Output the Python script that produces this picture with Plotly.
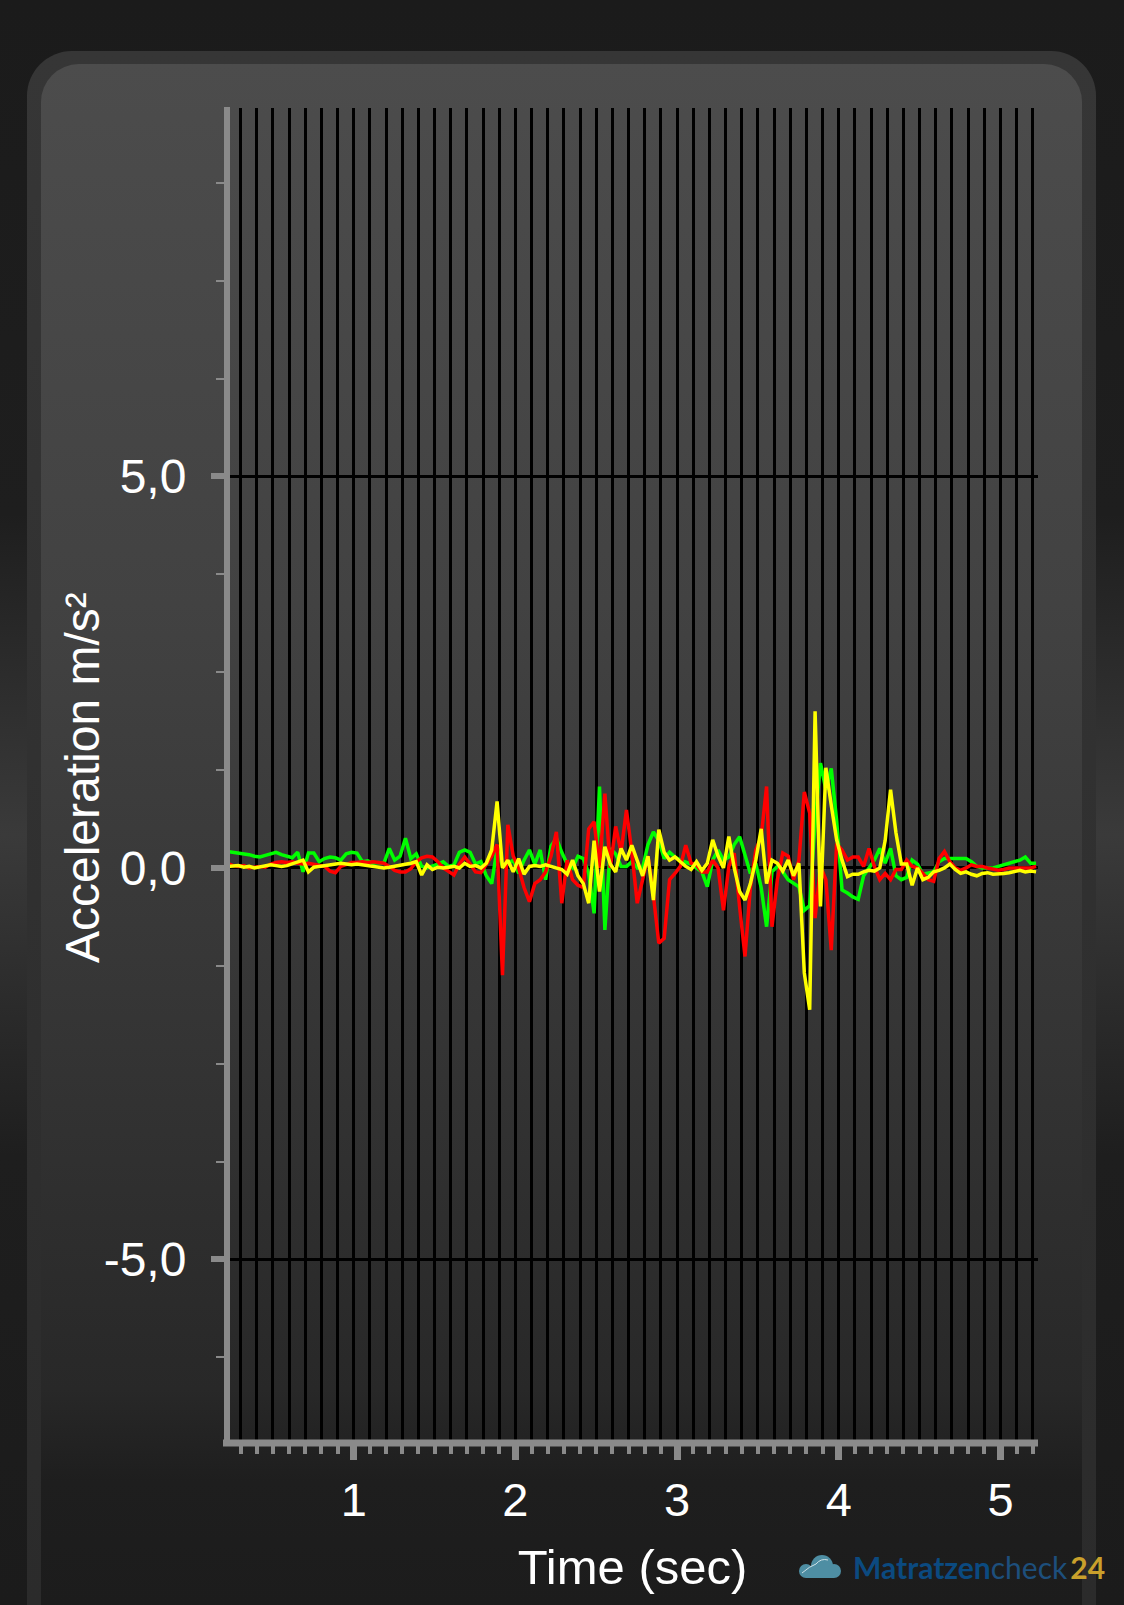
import base64
import plotly.graph_objects as go

# sampling of the recorded signal (seconds)
T0 = 0.22
DT = 1 / 30

GREEN = [0.21, 0.20, 0.19, 0.19, 0.17, 0.15, 0.14, 0.16, 0.18, 0.20,
         0.17, 0.15, 0.13, 0.20, -0.05, 0.19, 0.19, 0.08, 0.12, 0.14,
         0.13, 0.10, 0.18, 0.20, 0.19, 0.08, 0.09, 0.06, 0.07, 0.06,
         0.25, 0.10, 0.15, 0.38, 0.12, 0.18, 0.02, 0.00, 0.02, 0.05,
         0.08, 0.02, 0.04, 0.20, 0.23, 0.20, 0.05,
         0.08, -0.10, -0.20, 0.25, 0.02, 0.05, 0.10, -0.07, 0.10, 0.23,
         0.05, 0.23, -0.15, 0.28, 0.38, 0.20, 0.05, 0.00, 0.15, 0.12,
         -0.07, -0.58, 1.04, -0.79, 0.25, 0.18, 0.02, 0.02, 0.08, 0.00,
         0.00, 0.30, 0.46, 0.35, 0.12, 0.20,
         0.14, 0.10, 0.07, 0.05, 0.00, -0.05, -0.24, 0.10, 0.23, 0.10,
         0.14, 0.30, 0.40, 0.15, -0.07, 0.06, -0.25, -0.75, -0.05, 0.02,
         -0.05, -0.15, -0.20, -0.24, -0.54, -0.48, 0.60, 1.34, 1.00, 1.27,
         0.60, -0.28, -0.32,
         -0.37, -0.40, -0.10, 0.00, 0.10, 0.25, 0.06, 0.25, -0.10, -0.15,
         -0.12, 0.10, 0.05, -0.08, -0.07, -0.05, 0.08, 0.12, 0.12, 0.12,
         0.12, 0.12, 0.08, 0.02, 0.00, 0.00, 0.00, 0.02, 0.04, 0.06,
         0.08, 0.10, 0.14, 0.06, 0.06]

RED = [0.06, 0.03, 0.02, 0.03, 0.00, 0.01, 0.02, 0.01, 0.05, 0.07,
       0.08, 0.07, 0.08, 0.06, 0.05, 0.06, 0.05, 0.03, 0.02, -0.04,
       -0.06, 0.02, 0.04, 0.07, 0.07, 0.08, 0.07, 0.08, 0.07, 0.06,
       0.02, -0.03, -0.05, -0.05, -0.01, 0.08, 0.13, 0.15, 0.14, 0.08,
       0.00, -0.05, -0.09, 0.05, 0.14, 0.05, -0.05,
       -0.06, 0.05, 0.15, 0.30, -1.37, 0.55, 0.15, 0.00, -0.25, -0.43,
       -0.20, -0.15, -0.05, 0.15, 0.46, -0.45, 0.10, -0.15, -0.22, -0.25,
       0.50, 0.59, 0.00, 0.95, 0.00, 0.53, 0.20, 0.74, 0.20, -0.45,
       -0.15, 0.15, -0.35, -0.96, -0.90, -0.15,
       -0.07, 0.02, 0.29, 0.06, 0.04, -0.05, -0.05, 0.10, 0.00,
       -0.54, 0.02, 0.19, -0.50, -1.13, -0.24, 0.23, 0.40, 1.04, -0.75,
       -0.15, 0.19, 0.15, -0.15, 0.10, 0.97, 0.70, -0.64, 0.02, -0.15,
       -1.05, 0.31, 0.23, 0.10, 0.14, 0.14, 0.02, 0.25, 0.02, -0.15,
       -0.07, -0.15, -0.02, -0.02, 0.10, 0.02, 0.00, -0.07, -0.15, -0.17,
       0.12, 0.21, 0.08, 0.00, -0.03, 0.00, 0.04, 0.02, 0.02, 0.00,
       -0.01, -0.03, -0.02, 0.00, 0.00, 0.00, 0.01, 0.00, 0.02]

YELLOW = [0.02, 0.02, 0.03, 0.01, 0.02, 0.00, 0.01, 0.02, 0.04, 0.03,
          0.02, 0.03, 0.05, 0.07, 0.10, -0.05, 0.01, 0.02, 0.03, 0.03,
          0.05, 0.06, 0.05, 0.04, 0.05, 0.04, 0.03, 0.02, 0.01, 0.00,
          0.01, 0.02, 0.03, 0.04, 0.06, 0.08, -0.09, 0.04, -0.02, 0.01,
          0.00, 0.01, 0.02, 0.00, 0.06, 0.02, 0.03,
          0.00, 0.06, 0.23, 0.85, 0.00, 0.10, -0.05, 0.12, -0.08, 0.02,
          0.03, 0.02, 0.04, 0.02, 0.00, -0.02, -0.08, 0.10, -0.10, -0.20,
          -0.45, 0.35, -0.30, 0.27, 0.05, -0.05, 0.25, 0.10, 0.29, 0.10,
          -0.10, 0.15, -0.41, 0.49, 0.20, 0.10,
          0.14, 0.08, 0.02, -0.02, 0.08, -0.03, 0.06, 0.36, 0.15, 0.00,
          0.40, 0.00, -0.30, -0.41, -0.20, 0.10, 0.50, -0.20, 0.10, 0.06,
          -0.04, 0.10, -0.10, 0.06, -1.34, -1.81, 2.00, -0.49, 1.28, 0.80,
          0.36, 0.10, -0.11,
          -0.08, -0.08, -0.05, -0.03, -0.04, 0.00, 0.35, 1.00, 0.45, 0.05,
          0.05, -0.22, 0.00, -0.15, -0.12, -0.05, -0.03, 0.00, 0.05, -0.02,
          -0.07, -0.05, -0.08, -0.10, -0.07, -0.06, -0.08, -0.08, -0.07, -0.06,
          -0.05, -0.03, -0.05, -0.04, -0.05]

assert len(GREEN) == len(RED) == len(YELLOW) == 151, (len(GREEN), len(RED), len(YELLOW))

X_TICKS = [1, 2, 3, 4, 5]
Y_TICKS = [-5, 0, 5]
Y_TICK_TEXT = ["-5,0", "0,0", "5,0"]
X_RANGE = [0.2164, 5.2319]
Y_RANGE = [-7.344, 9.706]

W, H = 1124, 1605
PL, PR, PT, PB = 227, 1038, 108, 1443   # plot area in pixels
AXIS_GREY = "#8a8a8a"
FONT = "Liberation Sans, Helvetica, Arial, sans-serif"


def px_x(x):
    return (x - PL) / (PR - PL)


def px_y(y):
    return (PB - y) / (PB - PT)


# backdrop: dark screen, rounded gradient card and the little logo cloud
svg = f"""<svg xmlns='http://www.w3.org/2000/svg' width='{W}' height='{H}' viewBox='0 0 {W} {H}' preserveAspectRatio='none'>
<defs>
<linearGradient id='bg' gradientUnits='userSpaceOnUse' x1='0' y1='0' x2='0' y2='{H}'>
<stop offset='0' stop-color='#1b1b1b'/><stop offset='0.32' stop-color='#1e1e1e'/>
<stop offset='0.52' stop-color='#3a3a3a'/><stop offset='0.72' stop-color='#1e1e1e'/>
<stop offset='1' stop-color='#1b1b1b'/></linearGradient>
<linearGradient id='rim' gradientUnits='userSpaceOnUse' x1='0' y1='51' x2='0' y2='{H}'>
<stop offset='0' stop-color='#363636'/><stop offset='1' stop-color='#2b2b2b'/></linearGradient>
<linearGradient id='card' gradientUnits='userSpaceOnUse' x1='0' y1='64' x2='0' y2='{H}'>
<stop offset='0' stop-color='#4c4c4c'/><stop offset='0.35' stop-color='#424242'/>
<stop offset='0.6' stop-color='#363636'/><stop offset='0.86' stop-color='#282828'/>
<stop offset='0.92' stop-color='#1e1e1e'/><stop offset='1' stop-color='#1c1c1c'/></linearGradient>
</defs>
<rect width='{W}' height='{H}' fill='url(#bg)'/>
<rect x='27' y='51' width='1069' height='1700' rx='45' fill='url(#rim)'/>
<rect x='41' y='64' width='1041' height='1700' rx='38' fill='url(#card)'/>
<g fill='#4e8ea3'><circle cx='806' cy='1571' r='7'/><circle cx='822' cy='1566' r='11'/>
<circle cx='834' cy='1571' r='7'/><rect x='806' y='1567' width='28' height='11'/></g>
<path d='M802 1573 Q810 1566 816 1564 Q821 1558 828 1560' stroke='#cfe2e8' stroke-width='1' fill='none'/>
</svg>"""
bg_src = "data:image/svg+xml;base64," + base64.b64encode(svg.encode()).decode()

fig = go.Figure()
for vals, col in [(GREEN, "#00ff00"), (RED, "#ff0000"), (YELLOW, "#ffff00")]:
    fig.add_trace(go.Scatter(x0=T0, dx=DT, y=vals, mode="lines",
                             line=dict(color=col, width=3.5),
                             hoverinfo="skip", showlegend=False))

fig.update_layout(
    width=W, height=H,
    margin=dict(l=PL, r=W - PR, t=PT, b=H - PB, pad=0),
    paper_bgcolor="#1b1b1b",
    plot_bgcolor="rgba(0,0,0,0)",
    font=dict(family=FONT, color="white"),
    showlegend=False,
    xaxis=dict(range=X_RANGE, tickmode="array", tickvals=X_TICKS,
               ticks="outside", ticklen=16, tickwidth=7, tickcolor=AXIS_GREY,
               showgrid=True, gridcolor="black", gridwidth=3,
               zeroline=False, showline=False,
               tickfont=dict(size=47, color="white"),
               title=dict(text="Time (sec)", font=dict(size=49, color="white"), standoff=24),
               minor=dict(tick0=0, dtick=0.1, ticks="outside", ticklen=10, tickwidth=4,
                          tickcolor=AXIS_GREY, showgrid=True, gridcolor="black", gridwidth=3)),
    xaxis2=dict(range=X_RANGE, overlaying="x", anchor="y", side="bottom",
                tickmode="array", tickvals=X_TICKS,
                ticks="inside", ticklen=16, tickwidth=7, tickcolor=AXIS_GREY,
                showticklabels=False, showgrid=False, zeroline=False, showline=False,
                minor=dict(tick0=0, dtick=0.1, ticks="inside", ticklen=10, tickwidth=4,
                           tickcolor=AXIS_GREY, showgrid=False)),
    yaxis=dict(range=Y_RANGE, tickmode="array", tickvals=Y_TICKS, ticktext=Y_TICK_TEXT,
               ticks="outside", ticklen=15, tickwidth=6, tickcolor=AXIS_GREY,
               showgrid=True, gridcolor="black", gridwidth=3,
               zeroline=False, showline=False, ticklabelstandoff=15,
               tickfont=dict(size=48, color="white"),
               minor=dict(tick0=0, dtick=1.25, ticks="outside", ticklen=10, tickwidth=2,
                          tickcolor=AXIS_GREY, showgrid=False)),
    yaxis2=dict(range=Y_RANGE, overlaying="y", anchor="x", side="left",
                tickmode="array", tickvals=Y_TICKS,
                ticks="inside", ticklen=16, tickwidth=6, tickcolor=AXIS_GREY,
                showticklabels=False, showgrid=False, zeroline=False, showline=False,
                minor=dict(tick0=0, dtick=1.25, ticks="inside", ticklen=11, tickwidth=2,
                           tickcolor=AXIS_GREY, showgrid=False)),
    images=[dict(source=bg_src, xref="paper", yref="paper",
                 x=px_x(0), y=px_y(0), sizex=W / (PR - PL), sizey=H / (PB - PT),
                 xanchor="left", yanchor="top", sizing="stretch", layer="below")],
    shapes=[
        # axis bars
        dict(type="line", xref="paper", yref="paper", x0=0, x1=0,
             y0=px_y(1446), y1=px_y(107), line=dict(color=AXIS_GREY, width=6)),
        dict(type="line", xref="paper", yref="paper", x0=px_x(223), x1=1,
             y0=0, y1=0, line=dict(color=AXIS_GREY, width=7)),
    ],
    annotations=[
        # y-axis title, placed by hand so it sits closer to the labels
        dict(xref="paper", yref="paper", x=px_x(82), y=px_y(778),
             xanchor="center", yanchor="middle", showarrow=False, textangle=-90,
             text="Acceleration m/s²", font=dict(size=48, color="white")),
        dict(xref="paper", yref="paper", x=px_x(851), y=px_y(1567),
             xanchor="left", yanchor="middle", showarrow=False,
             text="<b>Matratzen</b><span style='color:#1d4f7c'>check</span>"
                  "<span style='font-size:12px'> </span>"
                  "<b><span style='color:#c9a02b'>24</span></b>",
             font=dict(family="Lato, Open Sans, sans-serif", size=30, color="#0b4a80")),
    ],
)

# the page itself should sit flush with the window edges
fig.write_html("out.html", config={"displayModeBar": False},
               post_script="document.body.style.margin='0';"
                           "document.body.style.background='#1b1b1b';")
